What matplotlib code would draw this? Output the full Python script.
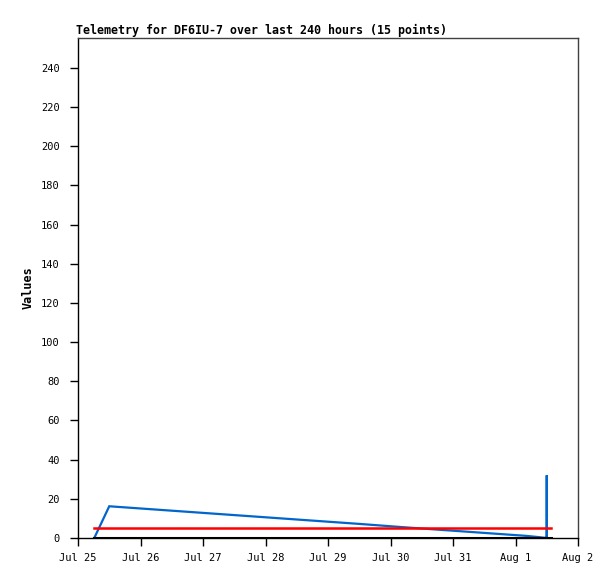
import pandas as pd
import numpy as np
import matplotlib.pyplot as plt

# telemetry samples (hours after Jul 25 00:00)
blue_hours = [6.25, 12.0, 28.0, 44.0, 60.0, 76.0, 92.0, 108.0, 124.0, 140.0, 156.0, 172.0, 177.3, 180.0, 180.0, 180.0]
blue_values = [0, 16.2, 14.7, 13.2, 11.7, 10.2, 8.7, 7.2, 5.6, 4.1, 2.6, 1.1, 0.4, 0, 32, 0]

flat_hours = [6.25, 181.6]
red_values = [5, 5]
black_values = [0, 0]

day_labels = ["Jul 25", "Jul 26", "Jul 27", "Jul 28", "Jul 29", "Jul 30", "Jul 31", "Aug 1", "Aug 2"]

start = pd.Timestamp("2023-07-25 00:00")
blue_t = [start + pd.Timedelta(hours=h) for h in blue_hours]
flat_t = [start + pd.Timedelta(hours=h) for h in flat_hours]
day_ticks = pd.date_range(start=start, periods=len(day_labels), freq="D")

MONO = "DejaVu Sans Mono"

fig = plt.figure(figsize=(6.15, 5.79), dpi=100)
ax = fig.add_axes([78/615, 41/579, 500/615, 500/579])

ax.plot(blue_t, blue_values, color="#0066cc", lw=1.6, solid_joinstyle="miter")
ax.plot(flat_t, red_values, color="#ff0000", lw=1.8)
ax.plot(flat_t, black_values, color="black", lw=2.2)

ax.set_xlim(day_ticks[0], day_ticks[-1])
ax.set_ylim(0, 255.3)
ax.set_xticks(day_ticks)
ax.set_xticklabels(day_labels, fontsize=7.5, family=MONO)
ax.set_yticks(np.arange(0, 241, 20))
ax.set_yticklabels([str(v) for v in range(0, 241, 20)], fontsize=7.5, family=MONO)
ax.tick_params(axis="y", direction="out", length=6, width=1, color="black", pad=7)
ax.tick_params(axis="x", direction="out", length=6, width=1, color="black", pad=5)

for s in ["left", "bottom"]:
    ax.spines[s].set_color("black")
    ax.spines[s].set_linewidth(1)
for s in ["top", "right"]:
    ax.spines[s].set_color("#404040")
    ax.spines[s].set_linewidth(1)

ax.set_title("Telemetry for DF6IU-7 over last 240 hours (15 points)", loc="left",
             fontsize=8.4, family=MONO, weight="bold", pad=3, x=-0.003)
ax.set_ylabel("Values", fontsize=8.5, family=MONO, weight="bold", labelpad=5)

fig.savefig("out.png", dpi=100)
